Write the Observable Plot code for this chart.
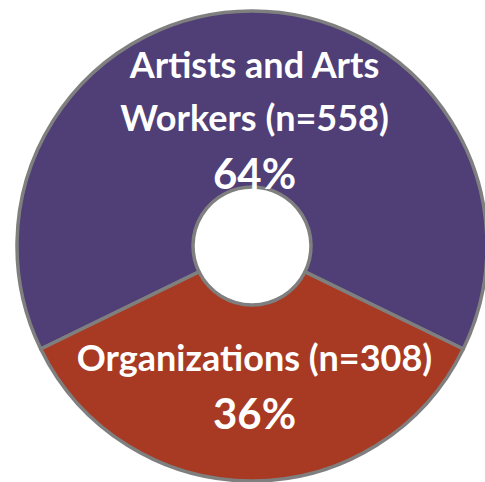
<!DOCTYPE html>
<html>
<head>
<meta charset="utf-8">
<script src="https://cdn.jsdelivr.net/npm/d3@7"></script>
<script src="https://cdn.jsdelivr.net/npm/@observablehq/plot@0.6"></script>
<style>
  html, body { margin: 0; padding: 0; background: #ffffff; }
  #chart svg { display: block; }
</style>
</head>
<body>
<div id="chart"></div>
<script>
// ---- data ----
const categories = ["Artists and Arts\nWorkers (n=558)", "Organizations (n=308)"];
const counts = [558, 308];
const percentLabels = ["64%", "36%"];
const sliceColors = ["#4f3f76", "#a83a23"];

// ---- layout / style ----
const W = 485, H = 482;
const cx = 252, cy = 246;          // pie centre in px
const outerR = 235, innerR = 59;   // radii in px
const labelRadii = [126, 140];     // distance of each label block's centre from pie centre
const nameSize = 36, pctSize = 42;
const nameCap = 26, linePitch = 53, pctGap = 58;
const font = "Lato, 'Open Sans', sans-serif";

const total = d3.sum(counts);
const p0 = counts[0] / total;
const rows = categories.map((c, i) => ({name: c, count: counts[i], pct: percentLabels[i], color: sliceColors[i]}));
const pie = d3.pie().sort(null).value(d => d.count)
  .startAngle(-p0 * Math.PI).endAngle(2 * Math.PI - p0 * Math.PI);
const arcs = pie(rows);
const labels = arcs.map((a, i) => {
  const r = labelRadii[i];
  const [lx, ly] = d3.arc().innerRadius(r).outerRadius(r).centroid(a);
  const m = a.data.name.split("\n").length;
  const hb = nameCap + linePitch * (m - 1) + pctGap;
  const top = ly - hb / 2;
  const nameBase = top + nameCap + linePitch * (m - 1);
  return {name: a.data.name, pct: a.data.pct, lx, nameBase, pctBase: nameBase + pctGap};
});

const chart = Plot.plot({
  width: W,
  height: H,
  margin: 0,
  x: {domain: [-cx, W - cx], range: [0, W], axis: null},
  y: {domain: [-cy, H - cy], range: [0, H], axis: null},
  style: {background: "#ffffff"},
  marks: [
    (index, scales) => {
      const {x, y} = scales;
      const r0 = x(innerR) - x(0);
      const r1 = x(outerR) - x(0);
      const arc = d3.arc().innerRadius(r0).outerRadius(r1);
      const g = d3.create("svg:g").attr("transform", `translate(${x(0)},${y(0)})`);
      g.selectAll("path").data(arcs).join("path")
        .attr("d", arc)
        .attr("fill", d => d.data.color)
        .attr("stroke", "#7f7f7f")
        .attr("stroke-width", 3.5)
        .attr("stroke-linejoin", "round");
      return g.node();
    },
    Plot.text(labels, {
      x: "lx", y: "nameBase", text: "name", dx: 2,
      lineAnchor: "bottom", lineHeight: linePitch / nameSize,
      fontSize: nameSize, fontWeight: "bold", fill: "white", fontFamily: font
    }),
    Plot.text(labels, {
      x: "lx", y: "pctBase", text: "pct", dx: 2,
      lineAnchor: "bottom",
      fontSize: pctSize, fontWeight: "bold", fill: "white", fontFamily: font
    })
  ]
});
document.getElementById("chart").append(chart);
</script>
</body>
</html>
